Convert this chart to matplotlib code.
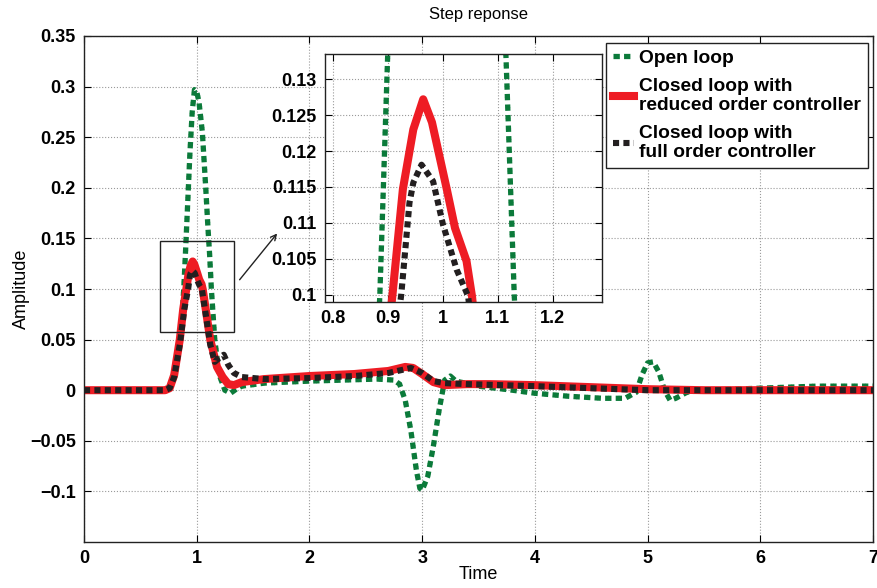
import numpy as np
import matplotlib
matplotlib.use('Agg')
import matplotlib.pyplot as plt
from matplotlib.patches import Rectangle

plt.rcParams['font.family'] = ['Liberation Sans', 'DejaVu Sans']

######## data
t_open = [0, 0.7, 0.75, 0.8, 0.84, 0.87, 0.885, 0.9, 0.92, 0.94, 0.96, 0.98, 1.0,
          1.02, 1.05, 1.08, 1.1, 1.115, 1.13, 1.16, 1.2, 1.25, 1.3, 1.35, 1.4, 1.6,
          1.8, 2.0, 2.3, 2.6, 2.75, 2.8, 2.85, 2.9, 2.95, 2.98, 3.0, 3.05, 3.1,
          3.15, 3.2, 3.25, 3.3, 3.5, 3.8, 4.0, 4.3, 4.6, 4.8, 4.9, 4.95, 5.0, 5.05,
          5.1, 5.15, 5.2, 5.25, 5.35, 5.5, 6.0, 6.5, 7.0]
y_open = [0, 0, 0.002, 0.01, 0.04, 0.075, 0.1, 0.135, 0.185, 0.235, 0.275, 0.297, 0.295,
          0.285, 0.255, 0.2, 0.16, 0.133, 0.1, 0.05, 0.015, 0.0, -0.003, 0.001, 0.004, 0.007,
          0.008, 0.009, 0.01, 0.011, 0.01, 0.006, -0.01, -0.04, -0.08, -0.097, -0.099, -0.085, -0.055,
          -0.02, 0.01, 0.014, 0.009, 0.004, 0.0, -0.003, -0.006, -0.008, -0.008, -0.002, 0.015, 0.027, 0.028,
          0.018, 0.0, -0.01, -0.008, -0.002, 0.0, 0.002, 0.004, 0.004]

t_red = [0, 0.72, 0.76, 0.8, 0.85, 0.88, 0.908, 0.927, 0.946, 0.964, 0.98, 1.007, 1.022,
         1.043, 1.053, 1.08, 1.12, 1.18, 1.23, 1.28, 1.33, 1.4, 1.6, 2.0, 2.4, 2.7, 2.85,
         2.92, 3.0, 3.1, 3.2, 3.4, 3.6, 4.0, 4.5, 5.0, 5.5, 6.0, 7.0]
y_red = [0, 0, 0.002, 0.015, 0.05, 0.08, 0.1, 0.1147, 0.123, 0.1272, 0.124, 0.1147, 0.1093,
         0.1047, 0.0998, 0.08, 0.05, 0.023, 0.013, 0.006, 0.005, 0.008, 0.011, 0.014, 0.016, 0.019, 0.023,
         0.022, 0.016, 0.008, 0.005, 0.006, 0.006, 0.005, 0.003, 0.001, 0.0, 0.0, 0.0]

t_full = [0, 0.72, 0.76, 0.8, 0.85, 0.89, 0.924, 0.939, 0.946, 0.961, 0.982, 1.0, 1.025,
          1.046, 1.08, 1.12, 1.16, 1.2, 1.24, 1.28, 1.33, 1.4, 1.6, 2.0, 2.4, 2.7, 2.9,
          3.0, 3.1, 3.2, 3.4, 4.0, 4.5, 5.0, 7.0]
y_full = [0, 0, 0.002, 0.013, 0.045, 0.08, 0.1, 0.1128, 0.1156, 0.1181, 0.1158, 0.1098, 0.1035,
          0.0998, 0.075, 0.045, 0.028, 0.032, 0.035, 0.025, 0.017, 0.013, 0.011, 0.012, 0.014, 0.017, 0.022,
          0.017, 0.009, 0.007, 0.006, 0.004, 0.002, 0.0, 0.0]

main_yticks = [-0.1, -0.05, 0, 0.05, 0.1, 0.15, 0.2, 0.25, 0.3, 0.35]
main_ylabels = ['\u22120.1', '\u22120.05', '0', '0.05', '0.1', '0.15', '0.2', '0.25', '0.3', '0.35']
main_xticks = [0, 1, 2, 3, 4, 5, 6, 7]
ins_xticks = [0.8, 0.9, 1.0, 1.1, 1.2]
ins_xlabels = ['0.8', '0.9', '1', '1.1', '1.2']
ins_yticks = [0.1, 0.105, 0.11, 0.115, 0.12, 0.125, 0.13]
ins_ylabels = ['0.1', '0.105', '0.11', '0.115', '0.12', '0.125', '0.13']

green = '#0b7a3a'
light_green = '#8ccaa2'
red = '#ee1c24'
black = '#231f20'


def draw_curves(ax, label=True):
    # open loop: thick dashes with thin light strokes in the gaps
    ax.plot(t_open, y_open, color=light_green, lw=3.8, ls=(1.45, (0.15, 1.85)),
            dash_capstyle='butt')
    ax.plot(t_open, y_open, color=green, lw=3.8, ls=(0, (1.2, 0.8)),
            dash_capstyle='butt', label='Open loop' if label else None)
    ax.plot(t_red, y_red, color=red, lw=5.8, solid_joinstyle='round',
            label='Closed loop with\nreduced order controller' if label else None)
    ax.plot(t_full, y_full, color=black, lw=4.4, ls=(0, (1.0, 0.7)),
            dash_capstyle='butt', label='Closed loop with\nfull order controller' if label else None)


def style(ax):
    ax.grid(True, ls=':', color='#9a9a9a', lw=0.8)
    ax.tick_params(direction='in', top=True, right=True, length=5, width=0.8,
                   labelsize=13, pad=6)
    for lab in ax.get_xticklabels() + ax.get_yticklabels():
        lab.set_fontweight('bold')
    for s in ax.spines.values():
        s.set_linewidth(1.0)
        s.set_color('#222222')


fig = plt.figure(figsize=(8.77, 5.88), dpi=100)

######## main axes
ax = fig.add_axes([84 / 877, 1 - 542 / 588, 789 / 877, 506 / 588])
draw_curves(ax)
ax.set_xlim(0, 7)
ax.set_ylim(-0.15, 0.35)
ax.set_xticks(main_xticks)
ax.set_xticklabels([str(v) for v in main_xticks])
ax.set_yticks(main_yticks)
ax.set_yticklabels(main_ylabels)
style(ax)
ax.set_title('Step reponse', fontsize=12, pad=12)
ax.set_xlabel('Time', fontsize=13, labelpad=-1)
ax.set_ylabel('Amplitude', fontsize=13, labelpad=0)

ax.add_patch(Rectangle((0.674, 0.0575), 0.656, 0.09, fill=False, lw=1.0,
                       ec='#222222', zorder=5))
ax.annotate('', xy=(1.729, 0.157), xytext=(1.365, 0.107),
            arrowprops=dict(arrowstyle='->', color='#222222', lw=1.0))

leg = ax.legend(loc='upper right', bbox_to_anchor=(868 / 877, 1 - 43 / 588),
                bbox_transform=fig.transFigure, fancybox=False, framealpha=1,
                edgecolor='#222222', handlelength=1.1, handletextpad=0.3,
                borderpad=0.35, labelspacing=0.55, borderaxespad=0,
                prop={'weight': 'bold', 'size': 13.8})
leg.get_frame().set_linewidth(1.0)
for txt in leg.get_texts():
    txt.set_linespacing(1.2)

######## inset
axi = fig.add_axes([325 / 877, 1 - 302 / 588, 277 / 877, 248 / 588])
draw_curves(axi, label=False)
axi.set_xlim(0.785, 1.29)
axi.set_ylim(0.099, 0.1335)
axi.set_xticks(ins_xticks)
axi.set_xticklabels(ins_xlabels)
axi.set_yticks(ins_yticks)
axi.set_yticklabels(ins_ylabels)
style(axi)

fig.savefig('out.png', dpi=100)
